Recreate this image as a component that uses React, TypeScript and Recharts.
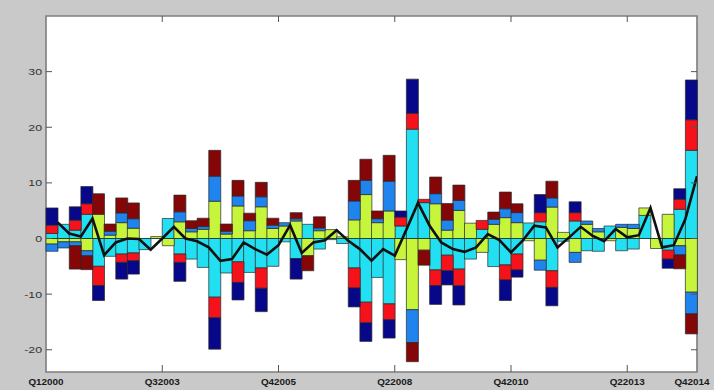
import { ComposedChart, Bar, Line, XAxis, YAxis, ReferenceLine, ReferenceArea, CartesianGrid } from 'recharts';

// contribution series, one value per period (56 periods)
const cyanPart = [
  0.9, 2.55, 1.5, 4.35, -5.0, -3.2, -2.8, -2.6, -2.0, 0, 3.6, -2.8, -3.7, -5.2,
  -10.55, -6.2, -4.2, -6.1, -5.3, -5.0, -0.6, -3.6, 2.55, -1.9, -0.2, -0.9, -5.3, -11.45,
  -7.0, -11.75, 2.25, 19.65, 6.45, -5.65, -3.0, -5.5, -3.7, 1.65, -5.05, -4.75, -2.8, 2.8,
  3.0, -5.8, -0.5, 3.15, -2.2, -2.3, 2.25, -2.2, -1.9, 4.15, 0, -2.1, 5.25, 15.85,
];
const limePart = [
  -1.0, -0.6, -0.6, -2.2, 4.35, 0.6, 2.85, 1.85, 0, 0.35, -1.3, 3.0, 1.2, 1.65,
  6.7, 0.8, 5.85, 1.4, 5.7, 1.8, 2.25, 3.15, -3.1, 1.4, 1.6, 0.3, 3.35, 7.9,
  2.85, 4.95, -3.8, -12.8, -2.1, 6.25, 1.5, 5.05, 2.75, -2.5, 2.55, 3.75, 2.85, -0.4,
  -3.9, 5.65, 1.1, -2.5, 2.55, 1.2, -0.4, 2.0, 1.8, 1.35, -1.8, 4.35, -1.3, -9.65,
];
const bluePart = [
  -1.3, -1.1, -0.7, -0.9, 0, 0.7, 1.75, 1.7, 0, 0, 0, 1.8, 0.6, 0.5,
  4.5, 0.5, 1.8, 1.8, 1.8, 0.6, 0.6, 0.4, 0, 0.5, 0, 0, 3.4, 2.55,
  0.7, 5.35, 0, -5.9, 0, 1.8, 1.8, 1.8, 0, 0, 0.9, 1.6, 1.8, 0,
  -1.8, 1.65, 0, -1.8, 0.6, 0.6, 0, 0.55, 0.75, 0, 0, 0, -1.65, -3.9,
];
const redPart = [
  1.5, 0, 1.8, 1.9, -3.45, 0, -1.5, -1.4, 0, 0, 0, -1.5, 0, 0,
  -3.7, 0, -3.7, 0, -3.65, 0, 0, 0, 0, 0, 0, 0, -3.6, -3.7,
  0, -2.85, 1.6, 2.85, 0.6, -2.8, -2.8, -3.0, 0, 1.6, 0, -2.7, -2.85, 0,
  1.65, -3.0, 0, 1.5, 0, 0, 0, 0, 0, 0, 0, -1.6, 1.8, 5.5,
];
const navyPart = [
  3.1, 0, 2.4, 3.1, -2.7, 0, -3.0, -2.4, 0, 0, 0, -3.4, 0, 0,
  -5.65, 0, -3.15, 0, -4.2, 0, 0, -3.7, 0, 0, 0, 0, -3.4, -3.35,
  0, -3.3, 1.1, 6.15, 0, -3.4, -2.55, -3.45, 0, 0, 0, -3.7, -1.3, 0,
  3.25, -3.3, 0, 1.95, 0, 0, 0, 0, 0, 0, 0, -1.65, 1.9, 7.15,
];
const darkRedPart = [
  0, 0, -4.2, -2.5, 3.7, 1.3, 2.7, 2.85, 0, 0, 0, 3.0, 1.4, 1.5,
  4.65, 1.3, 2.8, 1.35, 2.6, 1.25, 0, 1.1, -2.7, 2.0, 0, 0, 3.7, 3.8,
  1.4, 4.65, 0, -3.45, -2.7, 3.0, 3.0, 2.75, 0, 0, 1.3, 3.0, 1.6, 0,
  0, 3.0, 0, 0, 0, 0, 0, 0, 0, 0, 0, 0, -2.5, -3.6,
];
// net line
const netLine = [
  2.9, 0.9, 0.35, 3.6, -3.0, -0.7, 0, -0.1, -2.0, 0, 2.1, 0, -0.5, -1.6,
  -4.0, -3.7, -0.7, -1.9, -2.9, -1.2, 2.4, -2.6, -0.7, -0.3, 1.5, -0.4, -1.9, -4.0,
  -1.9, -3.1, 1.6, 6.4, 2.3, -0.7, -1.9, -2.4, -1.6, 0.8, -0.3, -2.5, -0.4, 2.3,
  2.0, -1.6, 0.2, 2.1, 0.5, -0.5, 1.7, 0.2, 0.6, 5.5, -1.6, -1.2, 3.5, 11.2,
];

const tickEdges = [0, 10, 20, 30, 40, 50, 56];
const tickLabels = ['Q12000', 'Q32003', 'Q42005', 'Q22008', 'Q42010', 'Q22013', 'Q42014'];
const yTicks = [-20, -10, 0, 10, 20, 30];

const rows = cyanPart.map((_, i) => ({
  period: i + 1,
  edge: i + 1,
  cyan: cyanPart[i],
  lime: limePart[i],
  blue: bluePart[i],
  red: redPart[i],
  navy: navyPart[i],
  darkred: darkRedPart[i],
  net: netLine[i],
}));

const PLOT_LEFT = 46;
const PLOT_RIGHT = 697;
const PLOT_TOP = 16;
const PLOT_BOTTOM = 372;

const YTick = (props: any) => {
  const { y, payload } = props;
  return (
    <g>
      <line x1={PLOT_LEFT} x2={PLOT_LEFT + 6} y1={y} y2={y} stroke="#555" />
      <line x1={PLOT_RIGHT - 6} x2={PLOT_RIGHT} y1={y} y2={y} stroke="#555" />
      <text
        transform={`translate(${PLOT_LEFT - 4} ${y}) scale(1.3 1)`}
        textAnchor="end"
        dominantBaseline="central"
        fontSize={9.5}
        fill="#333"
        fontFamily="Liberation Sans, Arial, sans-serif"
      >
        {payload.value}
      </text>
    </g>
  );
};

const XTick = (props: any) => {
  const { x, payload } = props;
  const idx = tickEdges.indexOf(payload.value);
  const inner = payload.value > 0 && payload.value < 56;
  const dx = payload.value === 56 ? -5 : 0;
  return (
    <g>
      {inner && <line x1={x} x2={x} y1={PLOT_BOTTOM} y2={PLOT_BOTTOM - 7} stroke="#555" />}
      {inner && <line x1={x} x2={x} y1={PLOT_TOP} y2={PLOT_TOP + 6} stroke="#555" />}
      <text
        transform={`translate(${x + dx} ${PLOT_BOTTOM + 10}) scale(1.1 1)`}
        textAnchor="middle"
        dominantBaseline="central"
        fontSize={9}
        fontWeight="bold"
        fill="#1a1a1a"
        fontFamily="Liberation Sans, Arial, sans-serif"
      >
        {tickLabels[idx]}
      </text>
    </g>
  );
};

const segStroke = '#2a2a2a';

export default function App() {
  return (
    <div style={{ position: 'fixed', left: 0, top: 0, width: 714, height: 390, background: '#c9c9c9' }}>
      <ComposedChart
        width={714}
        height={390}
        data={rows}
        stackOffset="sign"
        barCategoryGap={0}
        barGap={0}
        margin={{ top: PLOT_TOP, right: 714 - PLOT_RIGHT, bottom: 0, left: 0 }}
      >
        <CartesianGrid fill="#ffffff" horizontal={false} vertical={false} />
        <XAxis xAxisId="cat" dataKey="period" type="category" hide />
        <XAxis
          xAxisId="num"
          dataKey="edge"
          type="number"
          domain={[0, 56]}
          ticks={tickEdges}
          interval={0}
          height={390 - PLOT_BOTTOM}
          axisLine={false}
          tickLine={false}
          tick={<XTick />}
          allowDataOverflow
        />
        <YAxis
          domain={[-24, 40]}
          ticks={yTicks}
          width={PLOT_LEFT}
          axisLine={false}
          tickLine={false}
          tick={<YTick />}
          allowDataOverflow
        />
        <Bar xAxisId="cat" dataKey="cyan" stackId="s" fill="#22e0f2" stroke={segStroke} strokeWidth={0.7} isAnimationActive={false} />
        <Bar xAxisId="cat" dataKey="lime" stackId="s" fill="#c6f53c" stroke={segStroke} strokeWidth={0.7} isAnimationActive={false} />
        <Bar xAxisId="cat" dataKey="blue" stackId="s" fill="#1f84ee" stroke={segStroke} strokeWidth={0.7} isAnimationActive={false} />
        <Bar xAxisId="cat" dataKey="red" stackId="s" fill="#f5121a" stroke={segStroke} strokeWidth={0.7} isAnimationActive={false} />
        <Bar xAxisId="cat" dataKey="navy" stackId="s" fill="#07078a" stroke={segStroke} strokeWidth={0.7} isAnimationActive={false} />
        <Bar xAxisId="cat" dataKey="darkred" stackId="s" fill="#850606" stroke={segStroke} strokeWidth={0.7} isAnimationActive={false} />
        <ReferenceLine xAxisId="num" y={0} stroke="#1f4634" strokeWidth={1.2} />
        <Line
          xAxisId="num"
          dataKey="net"
          type="linear"
          stroke="#111111"
          strokeWidth={2.6}
          dot={false}
          activeDot={false}
          isAnimationActive={false}
        />
        <ReferenceArea
          xAxisId="num"
          x1={0}
          x2={56}
          y1={-24}
          y2={40}
          fill="none"
          stroke="#7d7d7d"
          strokeWidth={1.6}
          ifOverflow="visible"
        />
      </ComposedChart>
    </div>
  );
}
